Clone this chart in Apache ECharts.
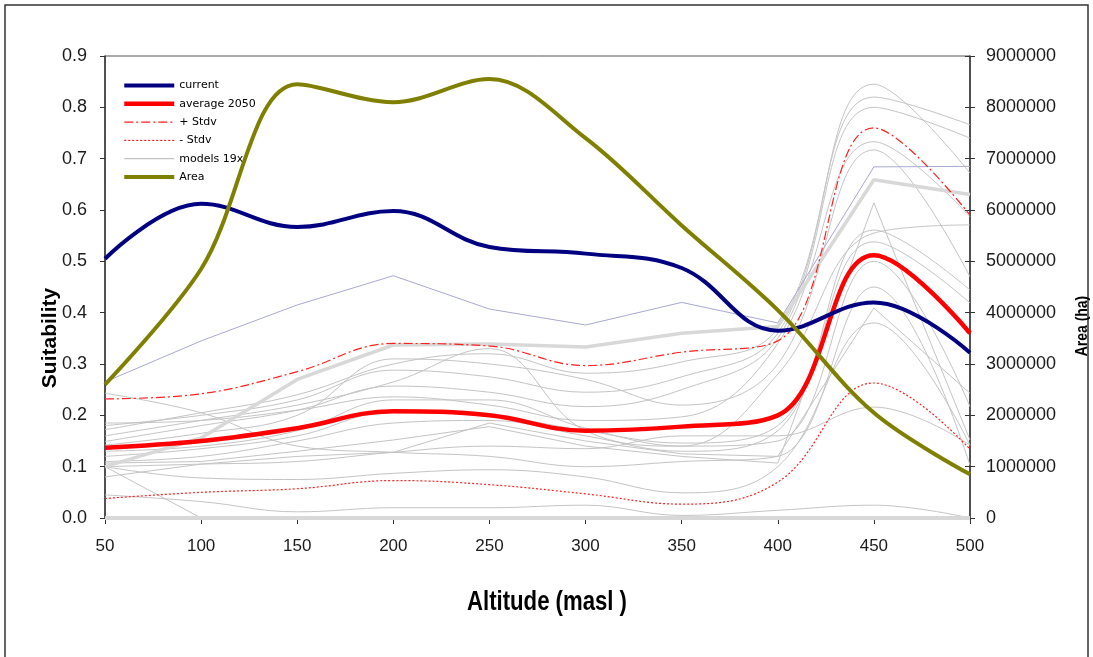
<!DOCTYPE html>
<html>
<head>
<meta charset="utf-8">
<script src="https://cdn.jsdelivr.net/npm/echarts@6/dist/echarts.min.js"></script>
<style>html,body{margin:0;padding:0;background:#fff}#c{width:1093px;height:657px}</style>
</head>
<body>
<div id="c"></div>
<script>
// ---- data ----
const altitude = [50, 100, 150, 200, 250, 300, 350, 400, 450, 500];
const current     = [0.505, 0.612, 0.567, 0.598, 0.528, 0.515, 0.487, 0.365, 0.420, 0.322];
const average2050 = [0.137, 0.150, 0.175, 0.208, 0.200, 0.170, 0.178, 0.200, 0.512, 0.360];
const plusStdv    = [0.232, 0.242, 0.285, 0.340, 0.335, 0.297, 0.323, 0.345, 0.760, 0.590];
const minusStdv   = [0.038, 0.050, 0.057, 0.073, 0.065, 0.047, 0.027, 0.070, 0.263, 0.134];
const areaHa      = [2600000, 4850000, 8450000, 8100000, 8550000, 7400000, 5700000, 4050000, 2050000, 850000];

// models (19x)
const modelA = [0.172, 0.205, 0.240, 0.300, 0.320, 0.282, 0.304, 0.370, 0.845, 0.672];
const modelB = [0.180, 0.200, 0.230, 0.288, 0.275, 0.245, 0.275, 0.360, 0.820, 0.766];
const modelC = [0.149, 0.180, 0.210, 0.257, 0.245, 0.217, 0.250, 0.350, 0.800, 0.740];
const modelD = [0.185, 0.190, 0.210, 0.236, 0.220, 0.190, 0.197, 0.340, 0.733, 0.587];
const modelE = [0.142, 0.165, 0.200, 0.310, 0.300, 0.270, 0.220, 0.300, 0.717, 0.470];
const modelF = [0.107, 0.110, 0.130, 0.152, 0.178, 0.140, 0.120, 0.107, 0.614, 0.152];
const modelG = [0.120, 0.135, 0.160, 0.207, 0.200, 0.170, 0.146, 0.180, 0.561, 0.444];
const modelH = [0.130, 0.140, 0.170, 0.230, 0.230, 0.175, 0.140, 0.280, 0.555, 0.571];
const modelI = [0.110, 0.120, 0.150, 0.185, 0.190, 0.160, 0.130, 0.170, 0.538, 0.419];
const modelJ = [0.080, 0.105, 0.120, 0.128, 0.185, 0.150, 0.125, 0.120, 0.409, 0.243];
const modelK = [0.100, 0.105, 0.110, 0.128, 0.140, 0.135, 0.160, 0.160, 0.216, 0.142];
const modelL = [0.045, 0.032, 0.012, 0.020, 0.020, 0.025, 0.005, 0.015, 0.025, 0.000];
const modelM = [0.100, 0.000, 0.000, 0.000, 0.000, 0.000, 0.000, 0.000, 0.000, 0.000];
const modelN = [0.160, 0.190, 0.220, 0.265, 0.330, 0.170, 0.140, 0.150, 0.500, 0.217];
const modelO = [0.243, 0.205, 0.140, 0.128, 0.120, 0.100, 0.110, 0.120, 0.450, 0.103];
const modelP = [0.100, 0.078, 0.075, 0.087, 0.094, 0.080, 0.049, 0.100, 0.380, 0.142];
const modelLavender = [0.265, 0.345, 0.415, 0.472, 0.407, 0.376, 0.420, 0.380, 0.684, 0.685];
const modelThick    = [0.100, 0.156, 0.270, 0.337, 0.339, 0.333, 0.360, 0.373, 0.659, 0.630];
const modelZero     = [0, 0, 0, 0, 0, 0, 0, 0, 0, 0];

const thinSmooth = [modelA, modelB, modelC, modelD, modelE, modelG, modelH, modelI, modelK, modelL, modelN, modelO, modelP];
const thinStraight = [modelF, modelJ, modelM];

const pts = arr => altitude.map((x, i) => [x, arr[i]]);

function lineSeries(name, arr, color, width, opts) {
  return Object.assign({
    name: name, type: 'line', data: pts(arr), symbol: 'none', showSymbol: false,
    itemStyle: { color: color },
    lineStyle: { color: color, width: width },
    silent: true
  }, opts || {});
}

const series = [];
thinSmooth.forEach(m => series.push(lineSeries('models 19x', m, '#c4c4c4', 1, { smooth: 0.4, z: 2 })));
thinStraight.forEach(m => series.push(lineSeries('models 19x', m, '#c4c4c4', 1, { smooth: false, z: 2 })));
series.push(lineSeries('models 19x', modelLavender, '#a8a8d2', 1, { z: 2 }));
series.push(lineSeries('models 19x', modelThick, '#d8d8d8', 3.5, { z: 2 }));
series.push(lineSeries('models 19x', modelZero, '#d8d8d8', 4, { z: 2 }));
const ms = lineSeries('- Stdv', minusStdv, '#ff2020', 1.2, { smooth: 0.4, z: 3 });
ms.lineStyle.type = [2, 2];
series.push(ms);
const ps = lineSeries('+ Stdv', plusStdv, '#ff2020', 1.2, { smooth: 0.4, z: 3 });
ps.lineStyle.type = [9, 3, 2, 3];
series.push(ps);
series.push(lineSeries('average 2050', average2050, '#ff0000', 4.5, { smooth: 0.4, z: 4 }));
series.push(lineSeries('current', current, '#000080', 4, { smooth: 0.4, z: 5 }));
series.push(lineSeries('Area', areaHa, '#808000', 4, { smooth: 0.35, z: 6, yAxisIndex: 1 }));

const axisColor = '#333';
const labelFont = { fontFamily: 'Liberation Sans', fontSize: 18, color: '#1a1a1a' };

const chart = echarts.init(document.getElementById('c'), null, { renderer: 'canvas' });
chart.setOption({
  animation: false,
  backgroundColor: '#fff',
  grid: { left: 105, right: 123, top: 56, bottom: 139, show: true, borderColor: '#555', borderWidth: 1, containLabel: false },
  legend: {
    data: [
      { name: 'current', lineStyle: { width: 4 } },
      { name: 'average 2050', lineStyle: { width: 4.5 } },
      { name: '+ Stdv', lineStyle: { width: 1.2 } },
      { name: '- Stdv', lineStyle: { width: 1.2 } },
      { name: 'models 19x', lineStyle: { width: 1.2 } },
      { name: 'Area', lineStyle: { width: 4 } }
    ],
    orient: 'vertical', left: 122, top: 80, padding: 0, itemWidth: 50, itemHeight: 10, itemGap: 7.3,
    itemStyle: { opacity: 0 },
    textStyle: { fontFamily: 'DejaVu Sans', fontSize: 11, color: '#000' },
    selectedMode: false
  },
  xAxis: {
    type: 'value', min: 50, max: 500, interval: 50,
    axisLine: { show: true, onZero: false, lineStyle: { color: axisColor, width: 1 } },
    axisTick: { show: true, inside: false, length: 6, lineStyle: { color: axisColor } },
    axisLabel: { margin: 20, fontFamily: 'Liberation Sans', fontSize: 17, color: '#1a1a1a' },
    splitLine: { show: false }
  },
  yAxis: [
    {
      type: 'value', min: 0, max: 0.9, interval: 0.1, position: 'left',
      axisLine: { show: true, lineStyle: { color: axisColor, width: 1.5 } },
      axisTick: { show: true, inside: false, length: 5, lineStyle: { color: axisColor } },
      axisLabel: Object.assign({ margin: 18, formatter: v => v.toFixed(1) }, labelFont),
      splitLine: { show: false }
    },
    {
      type: 'value', min: 0, max: 9000000, interval: 1000000, position: 'right',
      axisLine: { show: true, lineStyle: { color: axisColor, width: 1.5 } },
      axisTick: { show: true, inside: false, length: 5, lineStyle: { color: axisColor } },
      axisLabel: Object.assign({ margin: 16, formatter: v => String(v) }, labelFont),
      splitLine: { show: false }
    },
    {
      type: 'value', min: 0, max: 9000000, interval: 1000000, position: 'right',
      axisLine: { show: false },
      axisTick: { show: true, inside: true, length: 5, lineStyle: { color: axisColor } },
      axisLabel: { show: false },
      splitLine: { show: false }
    }
  ],
  graphic: [
    { type: 'rect', shape: { x: 5, y: 5, width: 1083, height: 700 }, style: { fill: 'none', stroke: '#333', lineWidth: 1.5 }, z: -10, silent: true },
    { type: 'text', x: 547, y: 603, scaleX: 0.82, style: { text: 'Altitude (masl )', fontFamily: 'Liberation Sans', fontWeight: 'bold', fontSize: 27, fill: '#000', align: 'center', verticalAlign: 'middle' } },
    { type: 'text', x: 50, y: 338, rotation: Math.PI / 2, style: { text: 'Suitability', fontFamily: 'Liberation Sans', fontWeight: 'bold', fontSize: 21, fill: '#000', align: 'center', verticalAlign: 'middle' } },
    { type: 'text', x: 1082, y: 326, rotation: Math.PI / 2, scaleX: 0.82, style: { text: 'Area (ha)', fontFamily: 'Liberation Sans', fontWeight: 'bold', fontSize: 17, fill: '#000', align: 'center', verticalAlign: 'middle' } }
  ],
  series: series
});
</script>
</body>
</html>
